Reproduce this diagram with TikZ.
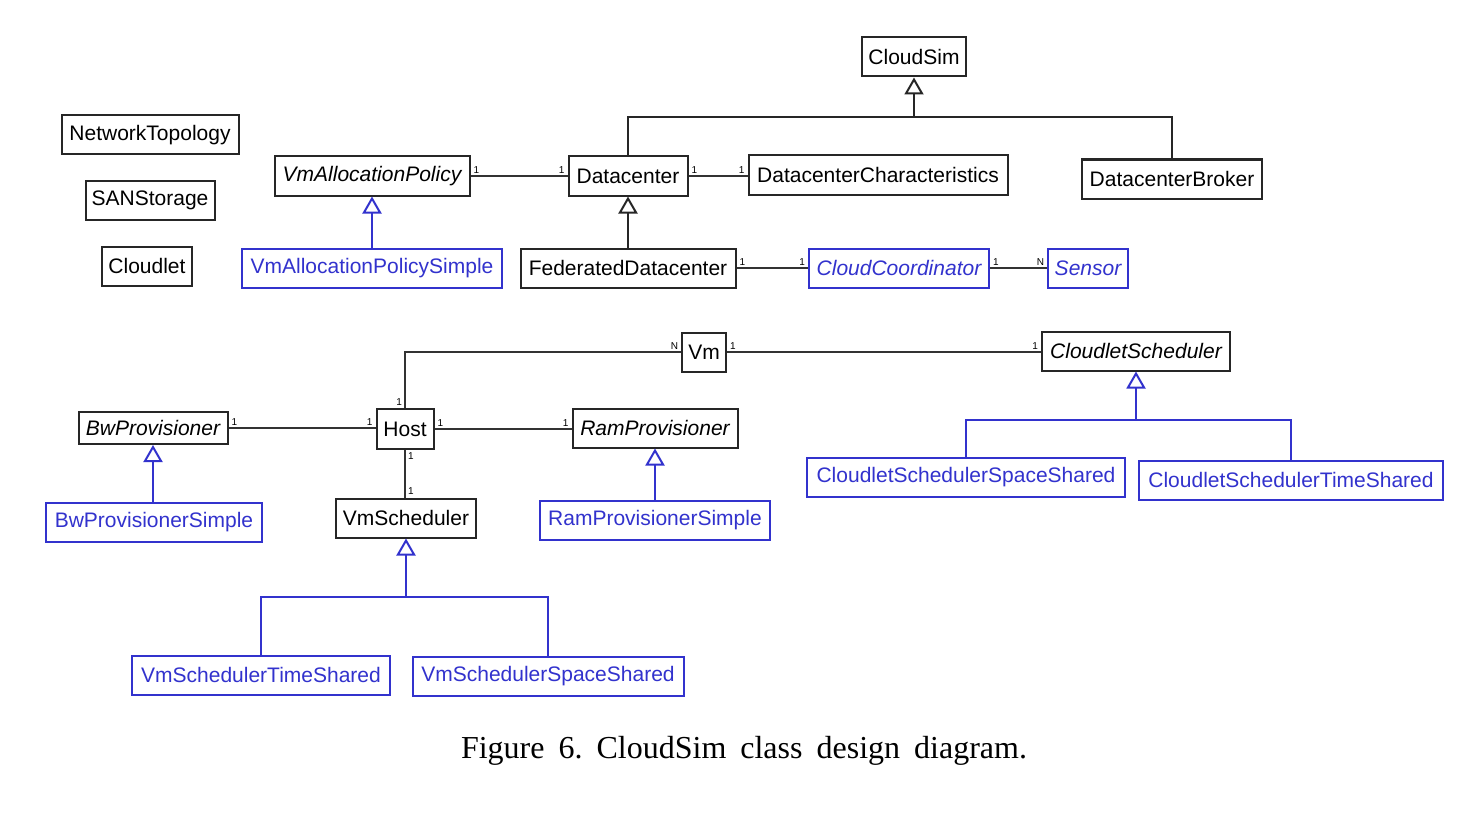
\documentclass[tikz,border=0pt]{standalone}
\usepackage{fontspec}
\setmainfont{Liberation Serif}
\setsansfont{Liberation Sans}
\usetikzlibrary{arrows.meta}
\definecolor{umlblue}{RGB}{50,50,205}
\begin{document}
\begin{tikzpicture}[x=0.5pt,y=-0.5pt,
  cls/.style={draw=black!85, line width=1pt, inner sep=0pt, minimum height=19.5pt, fill=white,
    font=\sffamily\fontsize{10.5}{12}\selectfont},
  abs/.style={cls, font=\sffamily\itshape\fontsize{10.5}{12}\selectfont},
  subc/.style={cls, draw=umlblue, text=umlblue},
  absub/.style={abs, draw=umlblue, text=umlblue},
  mult/.style={font=\sffamily\fontsize{5}{6}\selectfont, inner sep=1pt},
  assoc/.style={draw=black!80, line width=1pt},
  gen/.style={draw=black!85, line width=1pt, -{Triangle[open, length=8.5pt, width=9.5pt, fill=white]}},
  genb/.style={gen, draw=umlblue},
  genl/.style={draw=black!85, line width=1pt},
  genlb/.style={genl, draw=umlblue}]
\useasboundingbox (0,0) rectangle (1483,813);
% classes
\node[cls, minimum width=52pt] (cloudsim) at (914,57) {CloudSim};
\node[cls, minimum width=88.5pt] (nettop) at (150,135) {NetworkTopology};
\node[cls, minimum width=64.5pt] (san) at (150,200) {SANStorage};
\node[cls, minimum width=45pt] (cloudlet) at (147,266) {Cloudlet};
\node[abs, minimum width=97.5pt] (vap) at (372,176) {VmAllocationPolicy};
\node[subc, minimum width=130pt] (vaps) at (372,268) {VmAllocationPolicySimple};
\node[cls, minimum width=59.5pt] (dc) at (628,176) {Datacenter};
\node[cls, minimum width=129.5pt] (dcc) at (878,175) {DatacenterCharacteristics};
\node[cls, minimum width=90pt] (dcb) at (1172,179) {DatacenterBroker};
\node[cls, minimum width=107.5pt] (fdc) at (628,268) {FederatedDatacenter};
\node[absub, minimum width=90pt] (cc) at (899,268) {CloudCoordinator};
\node[absub, minimum width=40pt] (sensor) at (1088,268) {Sensor};
\node[cls, minimum width=22pt] (vm) at (704,352) {Vm};
\node[abs, minimum width=94pt] (cs) at (1136,351) {CloudletScheduler};
\node[abs, minimum width=74.5pt, minimum height=16pt] (bw) at (153,428) {BwProvisioner};
\node[cls, minimum width=28.5pt, minimum height=20pt] (host) at (405,429) {Host};
\node[abs, minimum width=82.5pt] (ram) at (655,428) {RamProvisioner};
\node[subc, minimum width=108pt] (bws) at (154,522) {BwProvisionerSimple};
\node[cls, minimum width=70pt] (vms) at (406,518) {VmScheduler};
\node[subc, minimum width=115pt] (rams) at (655,520) {RamProvisionerSimple};
\node[subc, minimum width=159pt] (csss) at (966,477) {CloudletSchedulerSpaceShared};
\node[subc, minimum width=152pt] (csts) at (1291,480) {CloudletSchedulerTimeShared};
\node[subc, minimum width=129pt] (vmsts) at (261,675) {VmSchedulerTimeShared};
\node[subc, minimum width=135.5pt] (vmsss) at (548,676) {VmSchedulerSpaceShared};
% junctions
\coordinate (jcs) at (914,117);
\coordinate (jcls) at (1136,420);
\coordinate (jvms) at (406,597);
% generalizations
\draw[gen] (jcs) -- (cloudsim.south);
\draw[genl] (dc.north) |- (jcs) -| (dcb.north);
\draw[gen] (fdc.north) -- (dc.south);
\draw[genb] (vaps.north) -- (vap.south);
\draw[genb] (bw.south |- bws.north) -- (bw.south);
\draw[genb] (rams.north) -- (ram.south);
\draw[genb] (jcls) -- (cs.south);
\draw[genlb] (csss.north) |- (jcls) -| (csts.north);
\draw[genb] (jvms) -- (vms.south);
\draw[genlb] (vmsts.north) |- (jvms) -| (vmsss.north);
% associations
\draw[assoc] (vap.east) -- (vap.east -| dc.west)
  node[mult, pos=0, anchor=south west] {1} node[mult, pos=1, anchor=south east] {1};
\draw[assoc] (dc.east) -- (dc.east -| dcc.west)
  node[mult, pos=0, anchor=south west] {1} node[mult, pos=1, anchor=south east] {1};
\draw[assoc] (fdc.east) -- (cc.west)
  node[mult, pos=0, anchor=south west] {1} node[mult, pos=1, anchor=south east] {1};
\draw[assoc] (cc.east) -- (sensor.west)
  node[mult, pos=0, anchor=south west] {1} node[mult, pos=1, anchor=south east] {N};
\draw[assoc] (vm.west) -| (host.north)
  node[mult, pos=0, anchor=south east] {N} node[mult, pos=1, anchor=south east] {1};
\draw[assoc] (vm.east) -- (vm.east -| cs.west)
  node[mult, pos=0, anchor=south west] {1} node[mult, pos=1, anchor=south east] {1};
\draw[assoc] (bw.east) -- (bw.east -| host.west)
  node[mult, pos=0, anchor=south west] {1} node[mult, pos=1, anchor=south east] {1};
\draw[assoc] (host.east) -- (host.east -| ram.west)
  node[mult, pos=0, anchor=south west] {1} node[mult, pos=1, anchor=south east] {1};
\draw[assoc] (host.south) -- (host.south |- vms.north)
  node[mult, pos=0, anchor=north west] {1} node[mult, pos=1, anchor=south west] {1};
% caption
\node[font=\rmfamily\fontsize{16}{19}\selectfont, inner sep=0pt] (caption) at (744,751)
  {\spaceskip=7pt plus 1pt Figure 6.\ CloudSim class design diagram.};
\end{tikzpicture}
\end{document}
